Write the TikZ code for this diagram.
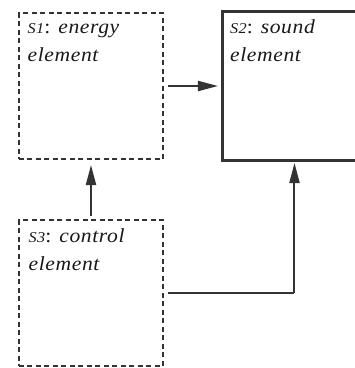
\documentclass[tikz,border=0pt]{standalone}
\usepackage{fontspec}
\setmainfont[FakeStretch=1.08,LetterSpace=3]{Liberation Serif}
\usetikzlibrary{arrows.meta,calc}
\definecolor{ln}{HTML}{333333}
\tikzset{
  x=1pt,y=1pt,
  dbox/.style={draw=ln,line width=2pt,dash pattern=on 5pt off 3.5pt,minimum width=144pt,minimum height=146pt,anchor=north west,inner sep=0pt},
  sbox/.style={draw=ln,line width=3pt,minimum width=144pt,minimum height=149pt,anchor=north west,inner sep=0pt},
  lbl/.style={anchor=base west,inner sep=0pt,align=left,text=black!90,font=\fontsize{20}{28}\selectfont\itshape},
  conn/.style={draw=ln,line width=2pt,-{Triangle[length=20pt,width=10pt]}},
}
\newcommand{\sidx}[1]{{\fontsize{15}{15}\selectfont S#1}{\upshape:}}
\begin{document}
\begin{tikzpicture}
\useasboundingbox (0,0) rectangle (355,-368);
\fill[white] (0,0) rectangle (355,-368);
\node[dbox] (s1) at (18,-12) {};
\node[sbox] (s2) at (221,-9.5) {};
\node[dbox] (s3) at (18,-219) {};
\node[lbl] (t1) at (27.5,-61.5) {\sidx{1} energy\\element};
\node[lbl] (t2) at (230,-61) {\sidx{2} sound\\element};
\node[lbl] (t3) at (28.5,-270) {\sidx{3} control\\element};
\draw[conn,shorten <=4pt,shorten >=3pt] (s1.east) -- (s1.east -| s2.west);
\draw[conn,shorten <=3pt,shorten >=5pt] (s3.north) -- (s1.south);
\coordinate (c) at (s3.east -| s2.south);
\draw[draw=ln,line width=2pt,shorten <=4pt] (s3.east) -- (c);
\draw[conn,shorten >=1.5pt] (c) -- (s2.south);
\end{tikzpicture}
\end{document}
